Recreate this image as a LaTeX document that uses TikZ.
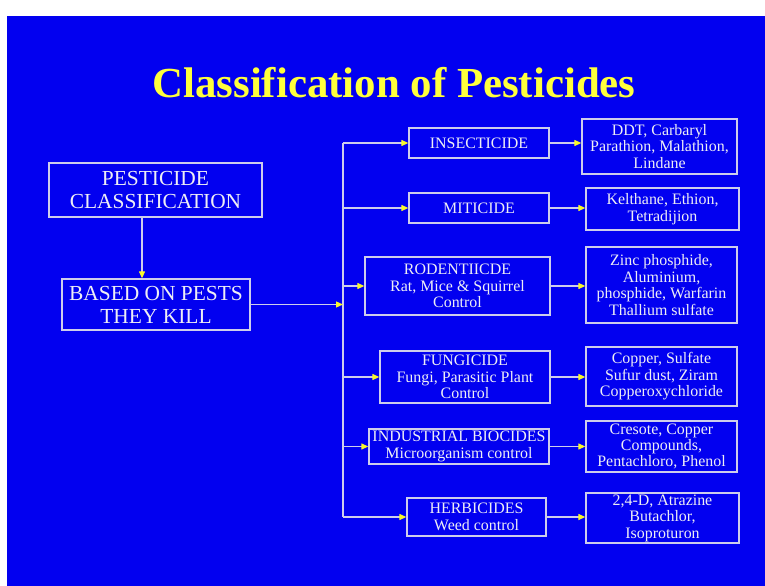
\documentclass[tikz,border=0pt]{standalone}
\usepackage{fontspec}
\setmainfont{Liberation Serif}
\usetikzlibrary{arrows.meta}
\definecolor{bgblue}{RGB}{2,0,240}
\definecolor{linegrey}{RGB}{205,205,235}
\definecolor{txtwhite}{RGB}{238,238,245}
\definecolor{tipyellow}{RGB}{250,250,40}
\definecolor{titleyellow}{RGB}{255,255,60}
\tikzset{
  box/.style={draw=linegrey, line width=1.3bp, text=txtwhite, align=center, inner sep=0pt,
    font=\fontsize{16}{16.5}\selectfont},
  bigbox/.style={box, font=\fontsize{21.5}{23}\selectfont},
  arr/.style={draw=linegrey, line width=1.2bp, -{Triangle[length=7bp,width=6bp,color=tipyellow,fill=tipyellow]}},
  trunkline/.style={draw=linegrey, line width=1.2bp}
}
\begin{document}
\begin{tikzpicture}[x=1bp,y=-1bp]
\useasboundingbox (0,0) rectangle (765,586);
\fill[white] (0,0) rectangle (765,586);
\fill[bgblue] (7,16) rectangle (765,586);
\node[anchor=base, text=titleyellow, font=\fontsize{43}{46}\selectfont\bfseries] (title) at (394,98) {Classification of Pesticides};
\node[bigbox, minimum width=213bp, minimum height=54bp] (pc) at (155.5,190) {PESTICIDE\\CLASSIFICATION};
\node[bigbox, minimum width=188bp, minimum height=51bp] (based) at (156,304.5) {BASED ON PESTS\\THEY KILL};
\node[box, minimum width=140bp, minimum height=30bp] (ins) at (479,143) {INSECTICIDE};
\node[box, minimum width=155bp, minimum height=55bp] (ddt) at (659.5,146.5) {DDT, Carbaryl\\Parathion, Malathion,\\Lindane};
\node[box, minimum width=140bp, minimum height=30bp] (mit) at (479,208) {MITICIDE};
\node[box, minimum width=153bp, minimum height=42bp] (kel) at (662.5,209) {Kelthane, Ethion,\\Tetradijion};
\node[box, minimum width=185bp, minimum height=58bp] (rod) at (457.5,286) {RODENTIICDE\\Rat, Mice \& Squirrel\\Control};
\node[box, minimum width=151bp, minimum height=76bp] (zinc) at (661.5,285) {Zinc phosphide,\\Aluminium,\\phosphide, Warfarin\\Thallium sulfate};
\node[box, minimum width=170bp, minimum height=52bp] (fun) at (465,377) {FUNGICIDE\\Fungi, Parasitic Plant\\Control};
\node[box, minimum width=151bp, minimum height=59bp] (cop) at (661.5,376.5) {Copper, Sulfate\\Sufur dust, Ziram\\Copperoxychloride};
\node[box, minimum width=180bp, minimum height=35bp] (ind) at (459,446.5) {INDUSTRIAL BIOCIDES\\Microorganism control};
\node[box, minimum width=151bp, minimum height=51bp] (cre) at (661.5,446.5) {Cresote, Copper\\Compounds,\\Pentachloro, Phenol};
\node[box, minimum width=139bp, minimum height=38bp] (her) at (476.5,517) {HERBICIDES\\Weed control};
\node[box, minimum width=153bp, minimum height=50bp] (atr) at (662.5,518) {2,4-D, Atrazine\\Butachlor,\\Isoproturon};
\coordinate (ttop) at (343,143);
\coordinate (tbot) at (343,517);
\draw[trunkline] (ttop) -- (tbot);
\draw[arr] ([xshift=-13.5bp]pc.south) -- ([xshift=-13.5bp]pc.south |- based.north);
\draw[arr] (based.east) -- (based.east -| ttop);
\foreach \n in {ins,mit,rod,fun,ind,her}{
  \draw[arr] (ttop |- \n.west) -- (\n.west);
}
\draw[arr] (ins.east) -- (ins.east -| ddt.west);
\draw[arr] (mit.east) -- (mit.east -| kel.west);
\draw[arr] (rod.east) -- (rod.east -| zinc.west);
\draw[arr] (fun.east) -- (fun.east -| cop.west);
\draw[arr] (ind.east) -- (ind.east -| cre.west);
\draw[arr] (her.east) -- (her.east -| atr.west);
\end{tikzpicture}
\end{document}
